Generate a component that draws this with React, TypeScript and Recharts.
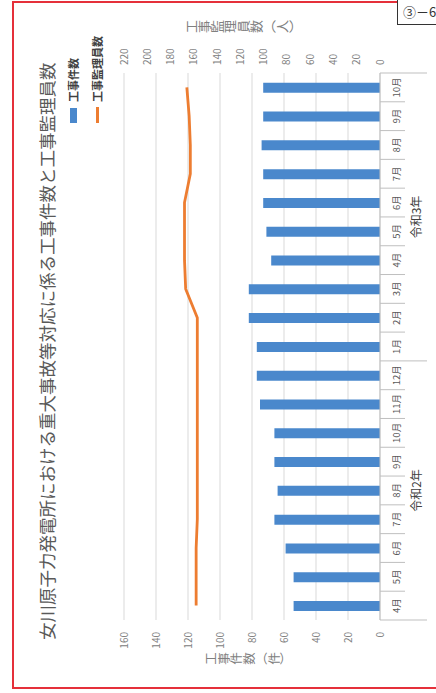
import React from "react";
import { ComposedChart, Bar, Line, XAxis, YAxis, CartesianGrid, Legend } from "recharts";

// 月（令和2年4月〜令和3年10月）
const months = ["4月", "5月", "6月", "7月", "8月", "9月", "10月", "11月", "12月", "1月", "2月", "3月", "4月", "5月", "6月", "7月", "8月", "9月", "10月"];
const workCounts = [54, 54, 59, 66, 64, 66, 66, 75, 77, 77, 82, 82, 68, 71, 73, 73, 74, 73, 73];
const supervisors = [158, 158, 158, 157, 157, 157, 157, 157, 157, 157, 157, 167, 168, 168, 168, 163, 163, 164, 166];
const yearGroups = [
  { label: "令和2年", count: 9 },
  { label: "令和3年", count: 10 },
];
const leftTicks = [0, 20, 40, 60, 80, 100, 120, 140, 160];
const rightTicks = [0, 20, 40, 60, 80, 100, 120, 140, 160, 180, 200, 220];

const data = months.map((m, i) => ({ month: m, work: workCounts[i], staff: supervisors[i] }));

// chart is drawn upright then turned a quarter turn to the left
const W = 693;
const H = 436;
const MARGIN = { top: 124, right: 33, bottom: 0, left: 33 };
const AXIS_W = 40;
const PLOT_W = W - MARGIN.left - MARGIN.right - AXIS_W * 2;

const FONT = "'Noto Sans CJK JP', 'Noto Sans', sans-serif";
const GRID = "#D9D9D9";
const SEP = "#BFBFBF";

function MonthTick(props: any) {
  const { x, y, payload, index, visibleTicksCount } = props;
  const n = visibleTicksCount || months.length;
  const band = (props.width || PLOT_W) / n;
  const left = x - band / 2;
  const right = x + band / 2;

  let start = 0;
  let group: { label: string; count: number } | null = null;
  for (const g of yearGroups) {
    if (index === start) group = g;
    start += g.count;
  }

  return (
    <g>
      <line x1={left} y1={y} x2={left} y2={y + (group ? 47 : 25)} stroke={SEP} strokeWidth={1} />
      {index === n - 1 && <line x1={right} y1={y} x2={right} y2={y + 47} stroke={SEP} strokeWidth={1} />}
      <text x={x} y={y + 16} textAnchor="middle" dominantBaseline="central" fontSize={9.5} fill="#595959" fontFamily={FONT}>
        {payload.value}
      </text>
      {group && (
        <text x={left + (group.count * band) / 2} y={y + 35} textAnchor="middle" dominantBaseline="central" fontSize={12} fill="#404040" fontFamily={FONT}>
          {group.label}
        </text>
      )}
    </g>
  );
}

function LegendBox({ payload }: any) {
  return (
    <div style={{ fontFamily: FONT }}>
      {(payload || []).map((e: any) => (
        <div key={e.value} style={{ display: "flex", alignItems: "center", height: 24 }}>
          {e.type === "line" ? (
            <span style={{ display: "inline-block", width: 16, height: 3, background: e.color, marginRight: 5 }} />
          ) : (
            <span style={{ display: "inline-block", width: 15, height: 7, background: e.color, marginRight: 6 }} />
          )}
          <span style={{ fontSize: 11, fontWeight: 700, color: "#404040", whiteSpace: "nowrap" }}>{e.value}</span>
        </div>
      ))}
    </div>
  );
}

export default function App() {
  return (
    <div style={{ position: "absolute", left: 0, top: 0, width: 436, height: 693, overflow: "hidden", background: "#fff" }}>
      {/* red frame */}
      <div style={{ position: "absolute", left: 12, top: 1, width: 440, height: 684, border: "2px solid #E5303A" }} />

      <div
        style={{
          position: "absolute",
          left: 0,
          top: 0,
          width: W,
          height: H,
          transformOrigin: "0 0",
          transform: `translateY(${W}px) rotate(-90deg)`,
          fontFamily: FONT,
        }}
      >
        <div style={{ position: "absolute", left: 53, top: 34, fontSize: 17.5, color: "#595959", whiteSpace: "nowrap" }}>
          女川原子力発電所における重大事故等対応に係る工事件数と工事監理員数
        </div>
        <div style={{ position: "absolute", left: 25, top: 205, fontSize: 12.5, color: "#808080", writingMode: "vertical-rl" }}>
          工事件数（件）
        </div>
        <div style={{ position: "absolute", left: 657, top: 185, fontSize: 13, color: "#808080", writingMode: "vertical-rl" }}>
          工事監理員数（人）
        </div>

        <ComposedChart width={W} height={H} data={data} margin={MARGIN}>
          <CartesianGrid yAxisId="left" horizontal vertical={false} stroke={GRID} />
          <XAxis
            dataKey="month"
            height={56}
            tickSize={0}
            tickMargin={0}
            interval={0}
            axisLine={{ stroke: SEP }}
            tickLine={false}
            tick={<MonthTick />}
          />
          <YAxis
            yAxisId="left"
            width={AXIS_W}
            domain={[0, 160]}
            ticks={leftTicks}
            axisLine={false}
            tickLine={false}
            tickMargin={6}
            tick={{ fontSize: 10, fill: "#808080" }}
          />
          <YAxis
            yAxisId="right"
            orientation="right"
            width={AXIS_W}
            domain={[0, 220]}
            ticks={rightTicks}
            axisLine={false}
            tickLine={false}
            tickMargin={2}
            tick={{ fontSize: 10, fill: "#808080" }}
          />
          <Legend
            layout="vertical"
            align="center"
            verticalAlign="middle"
            wrapperStyle={{ left: 570, top: 61, width: 110 }}
            content={<LegendBox />}
          />
          <Bar yAxisId="left" dataKey="work" name="工事件数" fill="#4A88CC" barSize={10} isAnimationActive={false} />
          <Line
            yAxisId="right"
            dataKey="staff"
            name="工事監理員数"
            type="linear"
            stroke="#ED7D31"
            strokeWidth={2.8}
            dot={false}
            legendType="line"
            isAnimationActive={false}
          />
        </ComposedChart>
      </div>

      <div
        style={{
          position: "absolute",
          left: 397,
          top: -1,
          width: 60,
          height: 24,
          border: "1px solid #333",
          background: "#fff",
          fontFamily: FONT,
          fontSize: 13,
          color: "#333",
          lineHeight: "24px",
          paddingLeft: 5,
          whiteSpace: "nowrap",
        }}
      >
        ③－6
      </div>
    </div>
  );
}
